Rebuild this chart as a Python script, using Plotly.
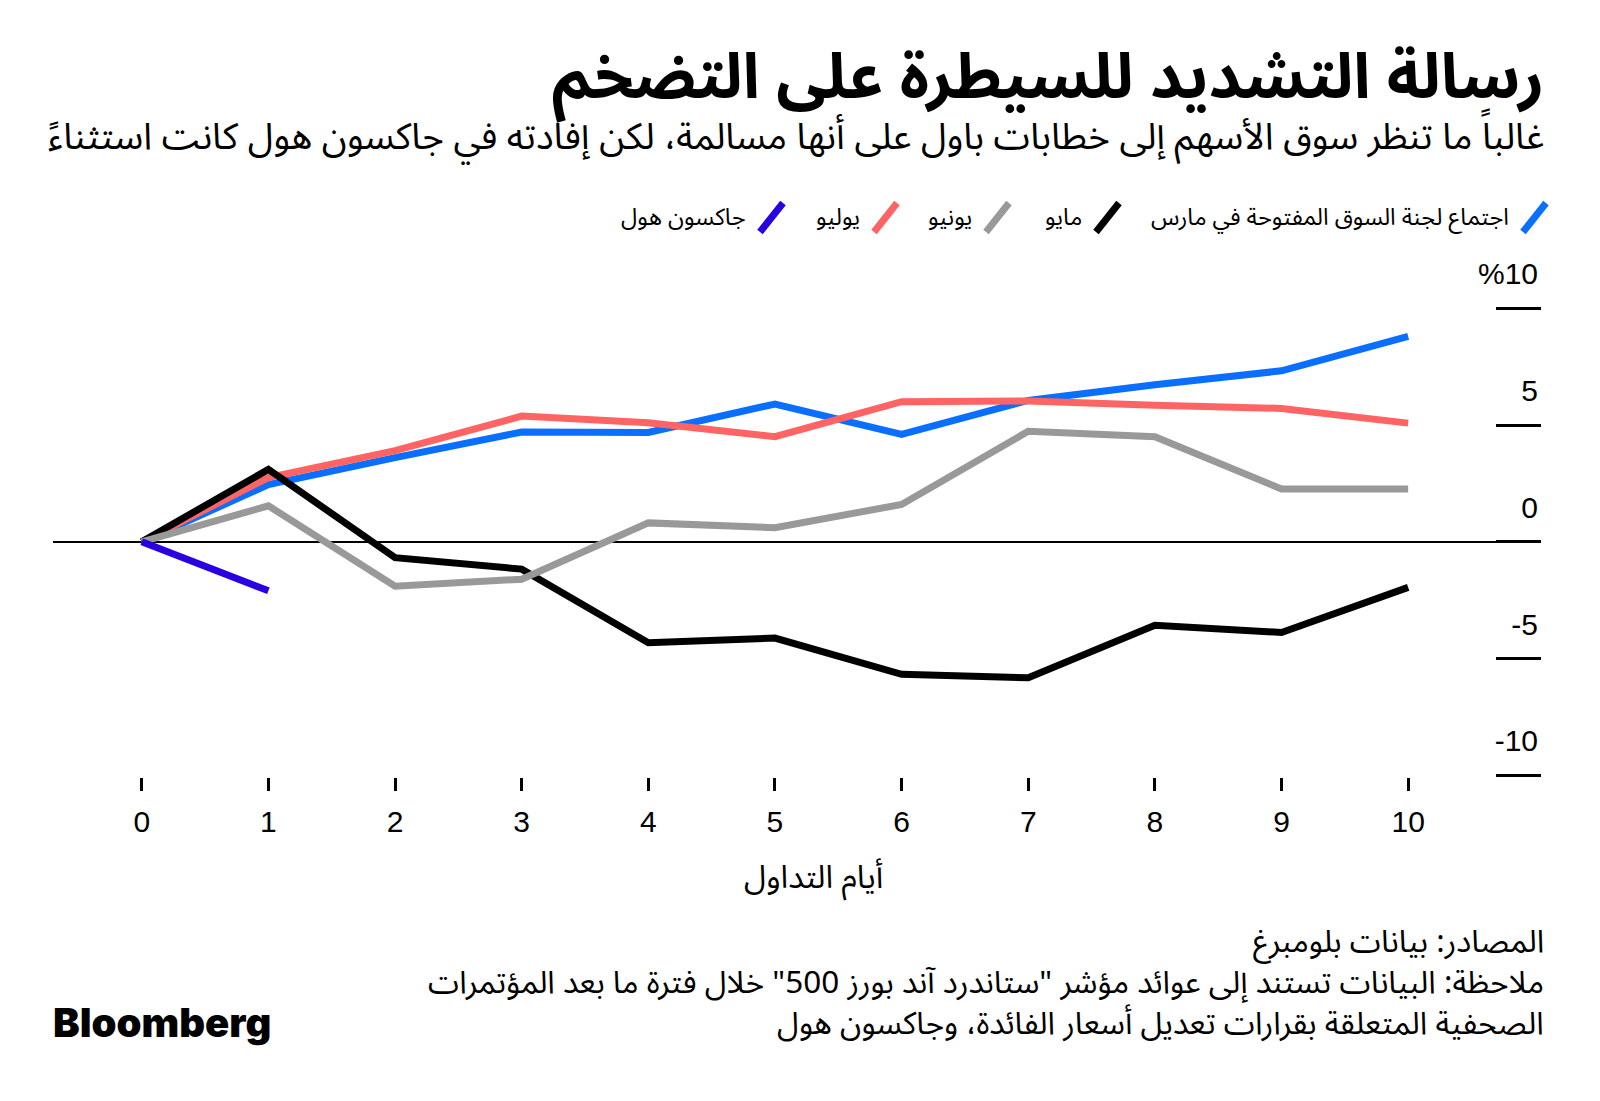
import plotly.graph_objects as go

# ---------------- data ----------------
days = list(range(11))
march = [0, 2.45, 3.6, 4.7, 4.68, 5.9, 4.6, 6.05, 6.72, 7.32, 8.79]
may = [0, 3.1, -0.68, -1.17, -4.32, -4.12, -5.67, -5.82, -3.57, -3.88, -1.95]
june = [0, 1.54, -1.9, -1.6, 0.81, 0.6, 1.6, 4.73, 4.5, 2.26, 2.26]
july = [0, 2.75, 3.9, 5.38, 5.1, 4.5, 6.0, 6.03, 5.85, 5.71, 5.08]
jackson_days = [0, 1]
jackson = [0, -2.1]

y_tickvals = [-10, -5, 0, 5, 10]
y_ticktext = ["-10", "-5", "0", "5", "%10"]
x_tickvals = days
x_ticktext = [str(d) for d in days]

names = ["اجتماع لجنة السوق المفتوحة في مارس", "مايو", "يونيو", "يوليو", "جاكسون هول"]
colors = ["#0A6EFF", "#000000", "#999999", "#FF6464", "#2A00E0"]

title = "رسالة التشديد للسيطرة على التضخم"
subtitle = "غالباً ما تنظر سوق الأسهم إلى خطابات باول على أنها مسالمة، لكن إفادته في جاكسون هول كانت استثناءً"
x_title = "أيام التداول"
footer_lines = [
    "المصادر: بيانات بلومبرغ",
    "ملاحظة: البيانات تستند إلى عوائد مؤشر \"ستاندرد آند بورز 500\" خلال فترة ما بعد المؤتمرات",
    "الصحفية المتعلقة بقرارات تعديل أسعار الفائدة، وجاكسون هول",
]

# ---------------- layout geometry (screen pixels) ----------------
OFF = 8                      # default page body margin
W, H = 1600 - 2 * OFF, 1101 - 2 * OFF
L, R, T, B = 53, 1541, 240, 777   # plot area on screen
ZERO_Y, PX_PER_UNIT = 541.8, 23.36

y_top = (ZERO_Y - T) / PX_PER_UNIT
y_bot = -(B - ZERO_Y) / PX_PER_UNIT


def px(x):
    return (x - L) / (R - L)


def py(y):
    return (B - y) / (B - T)


AR = "Noto Sans Arabic, DejaVu Sans, sans-serif"
NUM = "Liberation Sans, Arial, sans-serif"

fig = go.Figure()

series = [
    (days, march, colors[0], names[0]),
    (days, july, colors[3], names[3]),
    (days, may, colors[1], names[1]),
    (days, june, colors[2], names[2]),
    (jackson_days, jackson, colors[4], names[4]),
]
for xs, ys, c, n in series:
    fig.add_trace(go.Scatter(x=xs, y=ys, mode="lines", name=n,
                             line=dict(color=c, width=7, shape="linear"),
                             showlegend=False, hoverinfo="x+y"))

fig.update_layout(
    width=W, height=H,
    margin=dict(l=L - OFF, r=W - (R - OFF), t=T - OFF, b=H - (B - OFF), pad=0),
    paper_bgcolor="white", plot_bgcolor="white",
    xaxis=dict(range=[-0.701, 11.049], tickvals=x_tickvals, ticktext=x_ticktext,
               showgrid=False, zeroline=False, showline=False,
               ticks="outside", ticklen=13, tickwidth=3, tickcolor="black",
               tickfont=dict(family=NUM, size=30, color="black"),
               ticklabelstandoff=5, fixedrange=True),
    yaxis=dict(range=[y_bot, y_top], tickvals=y_tickvals, ticktext=y_ticktext,
               side="right", showgrid=False, showline=False,
               zeroline=True, zerolinecolor="black", zerolinewidth=2,
               ticks="inside", ticklen=45, tickwidth=3, tickcolor="black",
               ticklabelposition="inside top", ticklabelshift=-12,
               tickfont=dict(family=NUM, size=30, color="black"),
               fixedrange=True),
    showlegend=False,
)

ann = []
ann.append(dict(text=title, x=px(1546), y=py(77), xref="paper", yref="paper",
                xanchor="right", yanchor="middle", showarrow=False,
                font=dict(family=AR, size=63, color="black", weight="bold")))
ann.append(dict(text=subtitle, x=px(1546), y=py(137), xref="paper", yref="paper",
                xanchor="right", yanchor="middle", showarrow=False,
                font=dict(family=AR, size=37, color="black")))
ann.append(dict(text=x_title, x=px(813), y=py(878), xref="paper", yref="paper",
                xanchor="center", yanchor="middle", showarrow=False,
                font=dict(family=AR, size=32, color="black")))
for i, t in enumerate(footer_lines):
    ann.append(dict(text=t, x=px(1546), y=py(942 + i * 41), xref="paper", yref="paper",
                    xanchor="right", yanchor="middle", showarrow=False,
                    font=dict(family=AR, size=31.5, color="black")))
ann.append(dict(text="Bloomberg", x=px(51), y=py(1022), xref="paper", yref="paper",
                xanchor="left", yanchor="middle", showarrow=False,
                font=dict(family="Inter, Liberation Sans, sans-serif", size=40,
                          color="black", weight=900)))

# legend (right-to-left)
legend_slash_right = [1549, 1122, 1012, 900, 786]
shapes = []
for n, c, sr in zip(names, colors, legend_slash_right):
    shapes.append(dict(type="line", xref="paper", yref="paper",
                       x0=px(sr - 26), y0=py(232), x1=px(sr - 3), y1=py(203),
                       line=dict(color=c, width=7)))
    ann.append(dict(text=n, x=px(sr - 38), y=py(218), xref="paper", yref="paper",
                    xanchor="right", yanchor="middle", showarrow=False,
                    font=dict(family=AR, size=23.5, color="black")))

fig.update_layout(annotations=ann, shapes=shapes)
fig.write_html("out.html")
